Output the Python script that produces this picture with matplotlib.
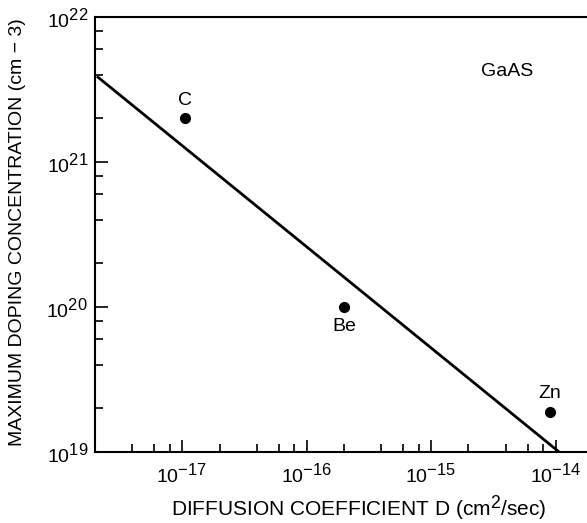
import numpy as np
import matplotlib
matplotlib.use('Agg')
import matplotlib.pyplot as plt
import matplotlib._mathtext as mt
from matplotlib.ticker import LogLocator, NullFormatter

plt.rcParams['font.family'] = ['Liberation Sans', 'DejaVu Sans']
plt.rcParams['mathtext.default'] = 'regular'
# the printed exponents are almost full size
mt.SHRINK_FACTOR = 0.85

# fitted line end points
line_D = [2.07e-18, 1.07e-14]
line_N = [3.9e21, 1.0e19]

# measured dopants
dopants = ['C', 'Be', 'Zn']
dop_D = [1.05e-17, 2.0e-16, 9.0e-15]
dop_N = [2.0e21, 1.0e20, 1.9e19]

# labelled decades
x_major = [1e-17, 1e-16, 1e-15, 1e-14]
y_major = [1e19, 1e20, 1e21, 1e22]

W, H = 587, 523
fig = plt.figure(figsize=(W / 100, H / 100), dpi=100)
# axes runs a little past the right edge, as in the scanned figure
ax = fig.add_axes([95 / W, (H - 452) / H, 498 / W, 435 / H])

ax.plot(line_D, line_N, color='black', lw=2.0, solid_capstyle='butt')
ax.plot(dop_D, dop_N, 'o', color='black', ms=7)

ax.set_xscale('log')
ax.set_yscale('log')

offs = {'C': (0, 7, 'bottom'), 'Be': (0, -8, 'top'), 'Zn': (0, 7, 'bottom')}
for name, d, n in zip(dopants, dop_D, dop_N):
    dx, dy, va = offs[name]
    ax.annotate(name, (d, n), xytext=(dx, dy), textcoords='offset points',
                ha='center', va=va, fontsize=14)

ax.text((507 - 95) / 498, (452 - 72) / 435, 'GaAS', transform=ax.transAxes,
        fontsize=14, ha='center', va='center')

ax.set_xticks(x_major)
ax.set_yticks(y_major)
for a in (ax.xaxis, ax.yaxis):
    a.set_minor_locator(LogLocator(base=10, subs=[2, 4, 6, 8], numticks=10))
    a.set_minor_formatter(NullFormatter())

ax.tick_params(which='both', direction='in', width=1.2, labelsize=14, top=False, right=False)
ax.tick_params(which='major', length=9)
ax.tick_params(axis='x', which='major', pad=7)
ax.tick_params(axis='y', which='major', pad=5)
ax.tick_params(which='minor', length=6)
ax.set_ylim(1e19, 1e22)
ax.set_xlim(2e-18, 2e-14)

for s in ax.spines.values():
    s.set_linewidth(1.5)

ax.set_xlabel('DIFFUSION COEFFICIENT D (cm$^{2}$/sec)', fontsize=15)
ax.set_ylabel('MAXIMUM DOPING CONCENTRATION (cm \u2212 3)', fontsize=14)
ax.xaxis.set_label_coords((359 - 95) / 498, (452 - 493) / 435)
ax.yaxis.set_label_coords((26 - 95) / 498, (452 - 232) / 435)

fig.savefig('out.png', dpi=100)
